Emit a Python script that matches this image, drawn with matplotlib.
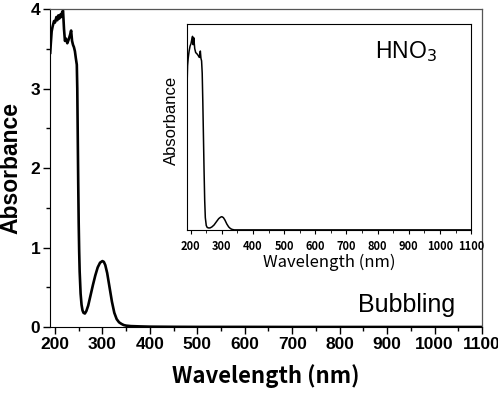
import matplotlib.pyplot as plt
from matplotlib.ticker import MultipleLocator

# bubbling spectrum (main plot)
wl = [190, 191, 193, 195, 198, 200, 203, 205, 207, 209, 211, 213, 215, 217, 219,
      221, 223, 226, 229, 232, 234, 236, 238, 240, 242, 244, 246, 247, 248, 249,
      250, 251, 252, 254, 256, 258, 260, 263, 266, 270, 275, 280, 285, 290, 295,
      300, 303, 306, 310, 315, 320, 325, 330, 335, 340, 345, 350, 360, 380, 400,
      450, 500, 600, 700, 800, 900, 1000, 1100]
absb = [3.45, 3.55, 3.72, 3.78, 3.85, 3.83, 3.9, 3.86, 3.92, 3.88, 3.93, 3.9, 3.96, 3.98, 3.75,
        3.6, 3.63, 3.57, 3.62, 3.68, 3.73, 3.6, 3.55, 3.52, 3.47, 3.38, 3.3, 3.0, 2.4, 1.8,
        1.3, 0.95, 0.7, 0.42, 0.28, 0.21, 0.18, 0.17, 0.2, 0.27, 0.4, 0.53, 0.65, 0.75, 0.81,
        0.83, 0.82, 0.78, 0.68, 0.5, 0.32, 0.18, 0.1, 0.06, 0.04, 0.025, 0.018, 0.012, 0.008, 0.005,
        0.003, 0.002, 0.002, 0.001, 0.001, 0.001, 0.001, 0.001]

# HNO3 spectrum (inset)
wl_in = [189, 190, 192, 195, 198, 201, 204, 206, 208, 210, 213, 216, 219, 222, 225,
         228, 231, 233, 235, 237, 239, 241, 243, 245, 247, 250, 253, 257, 262, 268,
         275, 283, 290, 296, 300, 305, 310, 316, 322, 328, 333, 340, 400, 1100]
abs_in = [3.1, 3.35, 3.5, 3.65, 3.75, 3.8, 3.9, 3.95, 3.78, 3.92, 3.7, 3.62, 3.6, 3.58, 3.55,
          3.52, 3.65, 3.5, 3.45, 3.2, 2.6, 1.9, 1.2, 0.6, 0.25, 0.09, 0.05, 0.04, 0.04, 0.06,
          0.1, 0.17, 0.23, 0.26, 0.27, 0.25, 0.2, 0.12, 0.06, 0.025, 0.01, 0.0, 0.0, 0.0]

fig = plt.figure(figsize=(4.98, 3.95), dpi=100)
ax = fig.add_axes([0.1004, 0.172, 0.8675, 0.805])
ax.plot(wl, absb, color="black", lw=1.9)
ax.set_xlim(189.5, 1100)
ax.set_ylim(0, 4)
ax.xaxis.set_major_locator(MultipleLocator(100))
ax.xaxis.set_minor_locator(MultipleLocator(50))
ax.yaxis.set_major_locator(MultipleLocator(1))
ax.yaxis.set_minor_locator(MultipleLocator(0.5))
ax.tick_params(which="major", length=5, width=1, direction="out", labelsize=12.5, pad=2)
ax.tick_params(which="minor", length=3, width=1, direction="out")
for lab in ax.get_xticklabels() + ax.get_yticklabels():
    lab.set_family("Liberation Sans")
    lab.set_weight("bold")
for s in ["top", "right"]:
    ax.spines[s].set_color("#555555")
    ax.spines[s].set_linewidth(0.9)
ax.set_xlabel("Wavelength (nm)", family="Noto Sans CJK JP", weight="bold", fontsize=16, labelpad=9)
ax.set_ylabel("Absorbance", family="Liberation Sans", weight="bold", fontsize=16.5, labelpad=6)
ax.text(0.9375, 0.047, "Bubbling", transform=ax.transAxes, ha="right", va="baseline",
        family="Liberation Sans", fontsize=18)

ins = fig.add_axes([0.376, 0.418, 0.570, 0.521])
ins.plot(wl_in, abs_in, color="black", lw=1.1)
ins.set_xlim(189, 1100)
ins.set_ylim(0, 4.2)
ins.xaxis.set_major_locator(MultipleLocator(100))
ins.xaxis.set_minor_locator(MultipleLocator(50))
ins.set_yticks([])
ins.tick_params(which="major", length=3, direction="out", labelsize=8, pad=4)
ins.tick_params(which="minor", length=2, direction="out")
for lab in ins.get_xticklabels():
    lab.set_family("Noto Sans CJK JP")
    lab.set_weight("bold")
ins.set_xlabel("Wavelength (nm)", family="Noto Sans CJK JP", fontsize=12, labelpad=1)
ins.set_ylabel("Absorbance", family="Liberation Sans", fontsize=12)
ins.yaxis.set_label_coords(-0.029, 0.53)
ins.text(0.88, 0.835, "HNO$_3$", transform=ins.transAxes, ha="right", va="baseline",
         family="Liberation Sans", fontsize=16.5)

fig.savefig("out.png", dpi=100)
